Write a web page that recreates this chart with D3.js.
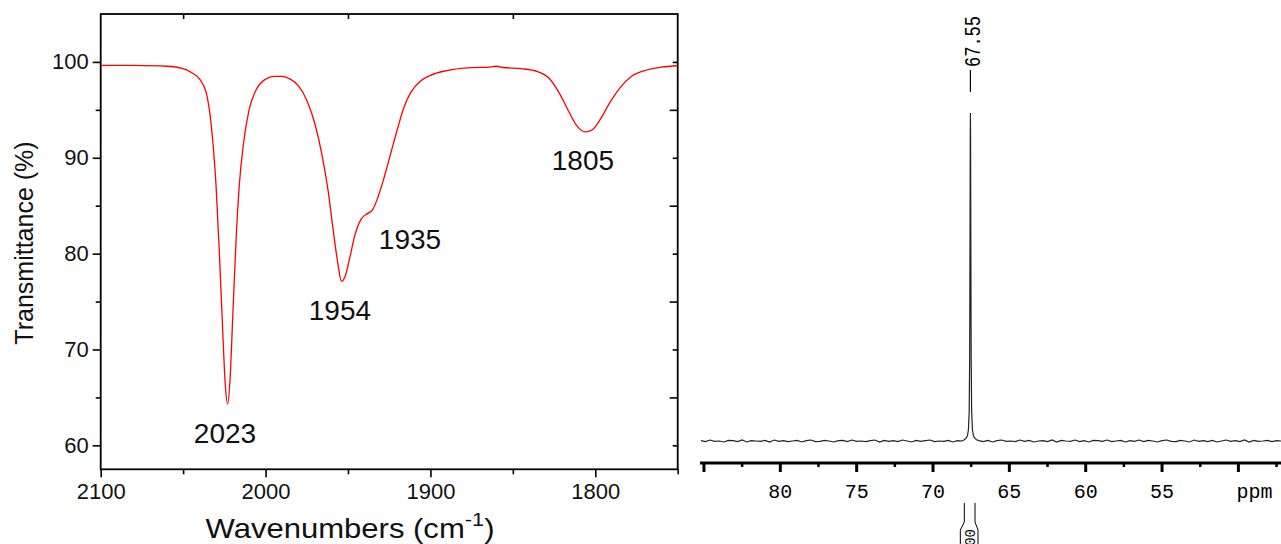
<!DOCTYPE html>
<html><head><meta charset="utf-8">
<script src="https://cdn.jsdelivr.net/npm/d3@7"></script>
<style>body{margin:0;background:#fff}svg{display:block}</style>
</head><body>
<svg id="c" width="1281" height="544"></svg>
<script>
// ---------- IR spectrum data ----------
const irWavenumbers = [2100,2080,2060,2050,2045,2040,2036,2033,2030,2028,2026,2024.5,2023,2021.5,2020,2018,2016,2013,2010,2006,2000,1995,1990,1985,1980,1975,1970,1966,1962,1959,1956,1954,1952,1949,1946,1942,1938,1935,1932,1928,1924,1920,1916,1912,1906,1900,1890,1875,1864,1860,1856,1845,1835,1828,1822,1816,1811,1806,1802,1797,1791,1785,1778,1770,1760,1750];
const irTransmittance = [99.65,99.63,99.55,99.3,98.9,98.2,96.8,93.5,87,80,72,66.5,64.3,67,73,81,87,92,95,97,98.2,98.5,98.5,98.2,97.5,96,93.5,90.5,86.5,82.5,78.8,77.1,77.5,79.5,81.8,83.6,84.2,84.6,85.8,88,90.5,93,95.3,96.8,98,98.6,99.1,99.4,99.45,99.55,99.42,99.3,99.0,98.3,96.8,94.8,93.3,92.7,92.9,94,95.8,97.3,98.5,99.1,99.45,99.6];
const irXTicks = [2100, 2000, 1900, 1800];
const irXMinorTicks = [2050, 1950, 1850, 1750];
const irYTicks = [60, 70, 80, 90, 100];
const irYMinorTicks = [65, 75, 85, 95];
const irPeakLabels = ["2023", "1954", "1935", "1805"];
const irPeakLabelW = [2024.6, 1954.9, 1912.4, 1807.5];
const irPeakLabelT = [60.2, 73.05, 80.5, 88.7];

// ---------- 13C NMR data ----------
const nmrPeakPpm = [67.95,67.85,67.75,67.68,67.63,67.60,67.58,67.56,67.55,67.54,67.52,67.50,67.47,67.42,67.35,67.25,67.15];
const nmrPeakInt = [0.4,0.8,1.5,3.5,9,25,55,92,100,92,55,25,9,3.5,1.5,0.8,0.4];
const nmrBasePpmLeft = [85.2,84.9,84.6,84.3,84.0,83.7,83.4,83.1,82.8,82.5,82.2,81.9,81.6,81.3,81.0,80.7,80.4,80.1,79.8,79.5,79.2,78.9,78.6,78.3,78.0,77.7,77.4,77.1,76.8,76.5,76.2,75.9,75.6,75.3,75.0,74.7,74.4,74.1,73.8,73.5,73.2,72.9,72.6,72.3,72.0,71.7,71.4,71.1,70.8,70.5,70.2,69.9,69.6,69.3,69.0,68.7,68.4,68.1];
const nmrBaseIntLeft = [0.1,-0.2,0.3,-0.1,0,-0.3,0.2,0.1,-0.2,0.3,-0.3,0.1,0,-0.1,0.2,-0.3,0.3,-0.1,0.1,-0.2,0,0.2,-0.3,0.1,0.3,-0.2,-0.1,0.2,0,-0.3,0.1,0.2,-0.2,0.3,-0.1,0,-0.2,0.1,0.3,-0.3,0.2,-0.1,0.1,-0.2,0.3,0,-0.3,0.2,-0.1,0.1,0.3,-0.2,0,-0.1,0.2,-0.3,0.1,0];
const nmrBasePpmRight = [67.0,66.7,66.4,66.1,65.8,65.5,65.2,64.9,64.6,64.3,64.0,63.7,63.4,63.1,62.8,62.5,62.2,61.9,61.6,61.3,61.0,60.7,60.4,60.1,59.8,59.5,59.2,58.9,58.6,58.3,58.0,57.7,57.4,57.1,56.8,56.5,56.2,55.9,55.6,55.3,55.0,54.7,54.4,54.1,53.8,53.5,53.2,52.9,52.6,52.3,52.0,51.7,51.4,51.1,50.8,50.5,50.2,49.9,49.6,49.3,49.0,48.7,48.4,48.1,47.8,47.5,47.2];
const nmrBaseIntRight = [0.1,-0.2,0.2,-0.3,0.1,0.3,-0.1,0,-0.2,0.3,-0.1,0.2,-0.3,0,0.1,-0.2,0.3,-0.3,0.2,0,-0.1,0.3,-0.2,0.1,-0.3,0.2,0.1,-0.1,0.3,-0.2,0,0.2,-0.3,0.1,-0.1,0.3,-0.2,0.2,0,-0.3,0.1,0.3,-0.1,-0.2,0.2,0,-0.3,0.3,-0.1,0.1,-0.2,0.2,-0.3,0,0.3,-0.1,0.1,-0.2,0.3,-0.3,0.2,-0.1,0,0.2,-0.2,0.1,0];
const nmrMajorTicks = [85, 80, 75, 70, 65, 60, 55, 50];
const nmrTickLabels = ["", "80", "75", "70", "65", "60", "55", "ppm"];
const nmrMinorTicks = [82.5, 77.5, 72.5, 67.5, 62.5, 57.5, 52.5, 47.5];
const nmrPeakLabel = "67.55";
const nmrIntegralRange = [67.95, 67.25];
const nmrIntegralValue = "100.00";

const svg = d3.select("#c");
svg.append("rect").attr("width",1281).attr("height",544).attr("fill","#fff");

// ================= IR panel =================
const L = {left:100.7, right:677.7, top:14, bottom:469.3};
const x = d3.scaleLinear().domain([2100,1750]).range([L.left, L.right]);
const y = d3.scaleLinear().domain([57.5,105]).range([L.bottom, L.top]);
const ir = svg.append("g");
const font = "'Liberation Sans', Arial, sans-serif";

ir.append("g").attr("transform",`translate(0,${L.bottom})`)
  .call(d3.axisBottom(x).tickValues(irXTicks).tickSize(8).tickFormat(d3.format("d")).tickPadding(6));
ir.append("g").attr("transform",`translate(0,${L.bottom})`)
  .call(d3.axisBottom(x).tickValues(irXMinorTicks).tickSize(5).tickFormat(""));
ir.append("g").attr("transform",`translate(${L.left},0)`)
  .call(d3.axisLeft(y).tickValues(irYTicks).tickSize(8).tickPadding(4));
ir.append("g").attr("transform",`translate(${L.left},0)`)
  .call(d3.axisLeft(y).tickValues(irYMinorTicks).tickSize(5).tickFormat(""));
ir.append("g").attr("transform",`translate(${L.right},0)`)
  .call(d3.axisLeft(y).tickValues(irYTicks).tickSize(5).tickFormat(""));
ir.append("g").attr("transform",`translate(${L.right},0)`)
  .call(d3.axisLeft(y).tickValues(irYMinorTicks).tickSize(8).tickFormat(""));
ir.append("g").attr("transform",`translate(0,${L.top})`)
  .call(d3.axisBottom(x).tickValues(irXMinorTicks.slice(0,3)).tickSize(5).tickFormat(""));
ir.selectAll(".domain").remove();
ir.selectAll(".tick line").attr("stroke","#000").attr("stroke-width",1.6);
ir.selectAll(".tick text").attr("font-family",font).attr("font-size",22).attr("fill","#111");
ir.append("rect").attr("x",L.left).attr("y",L.top).attr("width",L.right-L.left).attr("height",L.bottom-L.top)
  .attr("fill","none").attr("stroke","#000").attr("stroke-width",1.8);

const irData = irWavenumbers.map((w,i)=>[w, irTransmittance[i]]);
ir.append("path").datum(irData)
  .attr("d", d3.line().x(d=>x(d[0])).y(d=>y(d[1])).curve(d3.curveMonotoneX))
  .attr("fill","none").attr("stroke","#ff0000").attr("stroke-width",1.3);

ir.selectAll("text.pk").data(irPeakLabels).join("text").attr("class","pk")
  .attr("x",(d,i)=>x(irPeakLabelW[i])).attr("y",(d,i)=>y(irPeakLabelT[i]))
  .attr("text-anchor","middle").attr("font-family",font).attr("font-size",28).attr("fill","#111").text(d=>d);

ir.append("text").attr("transform",`translate(33,243) rotate(-90)`)
  .attr("text-anchor","middle").attr("font-family",font).attr("font-size",25).attr("fill","#111")
  .text("Transmittance (%)");
const xt = ir.append("g").attr("transform","translate(350,538) scale(1.15,1)")
  .append("text").attr("text-anchor","middle")
  .attr("font-family",font).attr("font-size",27).attr("fill","#111");
xt.append("tspan").text("Wavenumbers (cm");
xt.append("tspan").attr("dy",-12).attr("font-size",19).text("-1");
xt.append("tspan").attr("dy",12).text(")");

// ================= NMR panel =================
const N = {left:700, right:1281, axisY:463};
const nx = d3.scaleLinear().domain([85.26,47.21]).range([N.left, N.right]);
const ny = d3.scaleLinear().domain([0,100]).range([441,113]);
const mono = "'Liberation Mono', 'Courier New', monospace";
const nmr = svg.append("g");

const spec = nmrBasePpmLeft.map((p,i)=>[p, nmrBaseIntLeft[i]])
  .concat(nmrPeakPpm.map((p,i)=>[p, nmrPeakInt[i]]))
  .concat(nmrBasePpmRight.map((p,i)=>[p, nmrBaseIntRight[i]]));
nmr.append("path").datum(spec)
  .attr("d", d3.line().x(d=>nx(d[0])).y(d=>ny(d[1])))
  .attr("fill","none").attr("stroke","#222").attr("stroke-width",1.2);

nmr.append("line").attr("x1",N.left).attr("x2",N.right).attr("y1",N.axisY).attr("y2",N.axisY)
  .attr("stroke","#000").attr("stroke-width",3);
nmr.selectAll("line.maj").data(nmrMajorTicks).join("line").attr("class","maj")
  .attr("x1",d=>nx(d)).attr("x2",d=>nx(d)).attr("y1",N.axisY).attr("y2",N.axisY+9)
  .attr("stroke","#000").attr("stroke-width",3);
nmr.selectAll("line.min").data(nmrMinorTicks).join("line").attr("class","min")
  .attr("x1",d=>nx(d)).attr("x2",d=>nx(d)).attr("y1",N.axisY).attr("y2",N.axisY+4)
  .attr("stroke","#000").attr("stroke-width",2.5);
nmr.selectAll("text.tl").data(nmrMajorTicks).join("text").attr("class","tl")
  .attr("x",(d,i)=> i===nmrMajorTicks.length-1 ? nx(d)-2 : nx(d))
  .attr("y",498)
  .attr("text-anchor",(d,i)=> i===nmrMajorTicks.length-1 ? "start" : "middle")
  .attr("font-family",mono).attr("font-size",20).attr("fill","#000")
  .text((d,i)=>nmrTickLabels[i]);

// peak label
const px = nx(+nmrPeakLabel);
nmr.append("line").attr("x1",px).attr("x2",px).attr("y1",70).attr("y2",92)
  .attr("stroke","#000").attr("stroke-width",1.2);
nmr.append("text").attr("transform",`translate(${px+10},67) rotate(-90) scale(1,1.25)`)
  .attr("font-family",mono).attr("font-size",17).attr("fill","#000").text(nmrPeakLabel);

// integral bracket
const ia = nx(nmrIntegralRange[0]), ib = nx(nmrIntegralRange[1]);
nmr.append("path").attr("d",`M${ia},503 L${ia},522 L${ia-4},530 L${ia-4},544`)
  .attr("fill","none").attr("stroke","#000").attr("stroke-width",1);
nmr.append("path").attr("d",`M${ib},503 L${ib},522 L${ib+3},530 L${ib+3},544`)
  .attr("fill","none").attr("stroke","#000").attr("stroke-width",1);
nmr.append("text").attr("transform",`translate(${(ia+ib)/2+5},529) rotate(-90)`)
  .attr("text-anchor","end").attr("font-family",mono).attr("font-size",14).attr("fill","#000")
  .text(nmrIntegralValue);
</script>
</body></html>
